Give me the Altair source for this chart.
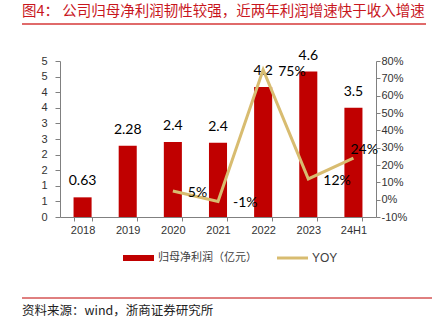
import altair as alt
import pandas as pd

# ---------------- data ----------------
years = ["2018", "2019", "2020", "2021", "2022", "2023", "24H1"]
profit = [0.63, 2.28, 2.40, 2.38, 4.17, 4.66, 3.50]
profit_labels = ["0.63", "2.28", "2.4", "2.4", "4.2", "4.6", "3.5"]

yoy_years = ["2020", "2021", "2022", "2023", "24H1"]
yoy = [5, -1, 75, 12, 24]
yoy_labels = ["5%", "-1%", "75%", "12%", "24%"]

left_ticks = [0, 0.5, 1, 1.5, 2, 2.5, 3, 3.5, 4, 4.5, 5]
right_ticks = [-10, 0, 10, 20, 30, 40, 50, 60, 70, 80]

title_text = ["图4： 公司归母净利润韧性较强，近两年利润增速快于收入增速"]
source_text = ["资料来源：wind，浙商证券研究所"]
legend_bar_label = ["归母净利润（亿元）"]
legend_line_label = ["YOY"]

# ---------------- styles ----------------
BAR = "#C00000"
LINE = "#D8BC70"
AX = "#808080"
LBL = "#333333"
CJK = "Noto Sans CJK SC"
NUM = "Lato"

df_bar = pd.DataFrame({"year": years, "value": profit, "label": profit_labels})
df_line = pd.DataFrame({"year": yoy_years, "yoy": yoy, "label": yoy_labels})

xscale = alt.Scale(domain=years, paddingInner=0.6, paddingOuter=0.3)
xaxis = alt.Axis(title=None, labelAngle=0, tickBand="extent", tickSize=4,
                 domainColor=AX, tickColor=AX, labelPadding=3,
                 labelFont="Liberation Sans", labelFontSize=11, labelColor=LBL)

base_bar = alt.Chart(df_bar).encode(
    x=alt.X("year:N", sort=years, scale=xscale, axis=xaxis),
    y=alt.Y("value:Q", scale=alt.Scale(domain=[0, 5], nice=False, zero=True),
            axis=alt.Axis(title=None, orient="left", values=left_ticks,
                          labelExpr="'' + round(datum.value)", grid=False,
                          tickSize=5, tickColor=AX, domainColor=AX,
                          labelPadding=8, labelFont="Liberation Sans",
                          labelFontSize=11, labelColor=LBL)),
)
bars = base_bar.mark_bar(color=BAR)
bar_text = base_bar.mark_text(dy=-16, baseline="middle", font=NUM,
                              fontSize=14, color="#000000").encode(text="label:N")
left_group = alt.layer(bars, bar_text)

base_line = alt.Chart(df_line).encode(
    x=alt.X("year:N", sort=years, scale=xscale, axis=xaxis),
    y=alt.Y("yoy:Q", scale=alt.Scale(domain=[-10, 80], nice=False, zero=False),
            axis=alt.Axis(title=None, orient="right", values=right_ticks,
                          labelExpr="datum.value + '%'", grid=False,
                          tickSize=4, tickColor=AX, domainColor=AX,
                          labelPadding=1, labelFont="Liberation Sans",
                          labelFontSize=11, labelColor=LBL)),
)
line = base_line.mark_line(color=LINE, strokeWidth=3, strokeJoin="miter")
line_text_a = base_line.transform_filter(
    alt.FieldOneOfPredicate(field="year", oneOf=yoy_years[:4])
).mark_text(align="left", dx=15, dy=2, baseline="middle", font=NUM,
            fontSize=14, color="#000000").encode(text="label:N")
line_text_b = base_line.transform_filter(
    alt.FieldOneOfPredicate(field="year", oneOf=yoy_years[4:])
).mark_text(align="left", dx=-3, dy=-8, baseline="middle", font=NUM,
            fontSize=14, color="#000000").encode(text="label:N")
right_group = alt.layer(line, line_text_a, line_text_b)

# ---------------- decorations ----------------
title = alt.Chart(pd.DataFrame({"t": title_text})).mark_text(
    align="left", baseline="middle", font=CJK, fontSize=14.5, color="#C8161D"
).encode(x=alt.value(-38), y=alt.value(-49), text="t:N")
title_rule = alt.Chart(pd.DataFrame({"t": title_text})).mark_rule(
    color="#E06A6A", strokeWidth=2
).encode(x=alt.value(-38), x2=alt.value(366), y=alt.value(-37))

foot_rule = alt.Chart(pd.DataFrame({"t": source_text})).mark_rule(
    color="#C00000", strokeWidth=1
).encode(x=alt.value(-38), x2=alt.value(372), y=alt.value(237))
foot = alt.Chart(pd.DataFrame({"t": source_text})).mark_text(
    align="left", baseline="middle", font=CJK, fontSize=12.5, color="#222222"
).encode(x=alt.value(-38), y=alt.value(250), text="t:N")

leg_rect = alt.Chart(pd.DataFrame({"t": legend_bar_label})).mark_rect(
    color=BAR
).encode(x=alt.value(63), x2=alt.value(94), y=alt.value(194), y2=alt.value(200))
leg_text1 = alt.Chart(pd.DataFrame({"t": legend_bar_label})).mark_text(
    align="left", baseline="middle", font=CJK, fontSize=11, color="#404040"
).encode(x=alt.value(98), y=alt.value(197), text="t:N")
leg_line = alt.Chart(pd.DataFrame({"t": legend_line_label})).mark_rule(
    color=LINE, strokeWidth=3
).encode(x=alt.value(217), x2=alt.value(248), y=alt.value(197))
leg_text2 = alt.Chart(pd.DataFrame({"t": legend_line_label})).mark_text(
    align="left", baseline="middle", font="Liberation Sans", fontSize=12,
    color="#404040"
).encode(x=alt.value(252), y=alt.value(197), text="t:N")

chart = alt.layer(
    left_group, right_group,
    title, title_rule, foot_rule, foot,
    leg_rect, leg_text1, leg_line, leg_text2,
).resolve_scale(y="independent").properties(
    width=316, height=156,
    autosize=alt.AutoSizeParams(type="none"),
    padding={"left": 60, "top": 61, "right": 56, "bottom": 108},
    background="white",
).configure_view(stroke=None)

chart.save("out.html", embed_options={"renderer": "svg", "actions": False})
